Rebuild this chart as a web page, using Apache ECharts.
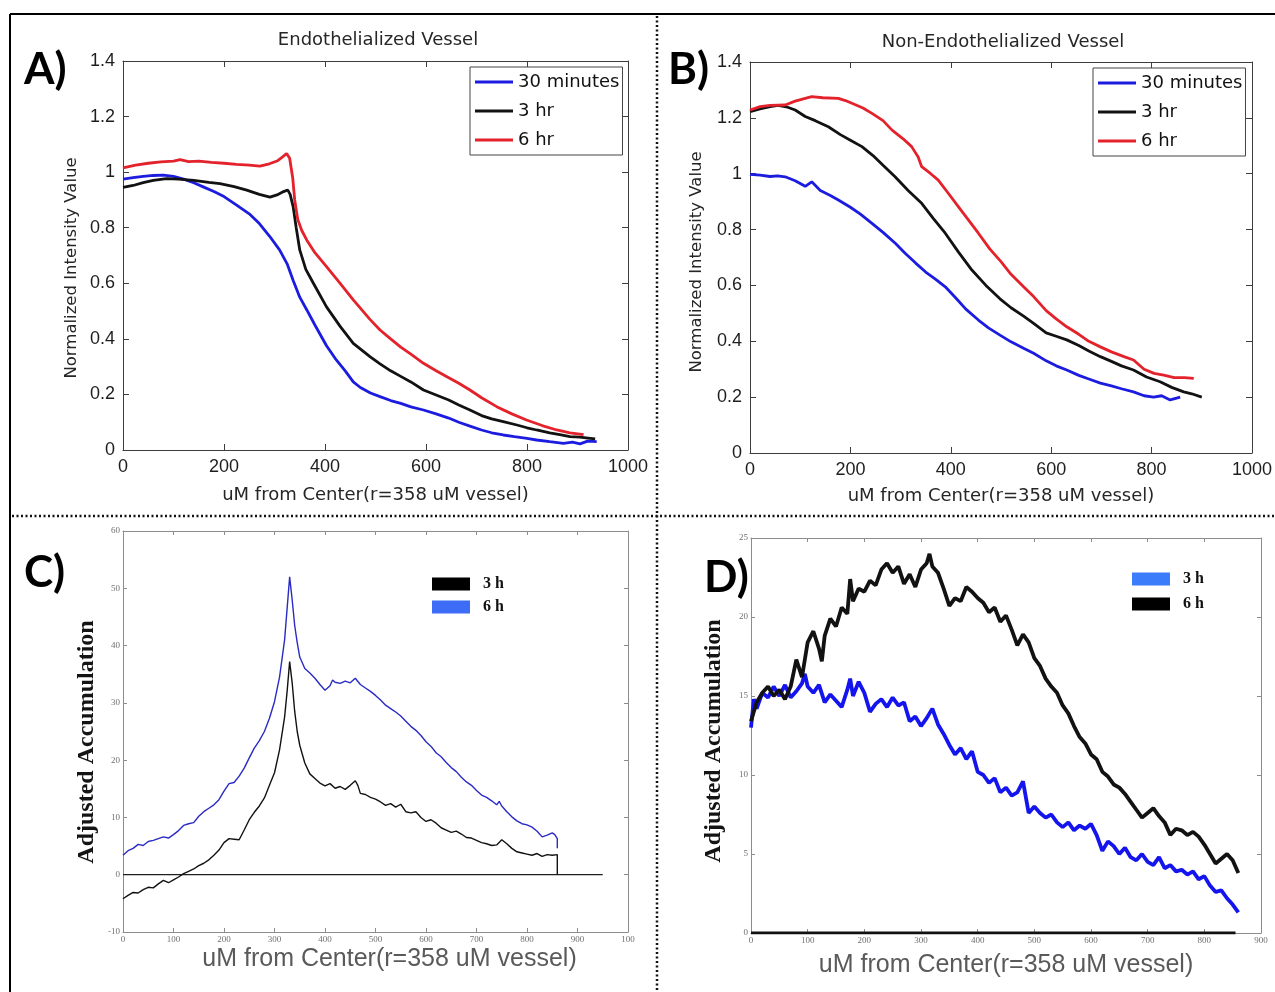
<!DOCTYPE html>
<html>
<head>
<meta charset="utf-8">
<title>Vessel intensity and accumulation profiles</title>
<script src="https://cdn.jsdelivr.net/npm/echarts@6/dist/echarts.min.js"></script>
<style>
  html, body { margin: 0; padding: 0; background: #fff; }
  #chart { width: 1275px; height: 992px; }
</style>
</head>
<body>
<div id="chart"></div>
<script>
// ---------- Panel A: endothelialized vessel, normalized intensity ----------
const endo30min = [[0,0.975],[20,0.98],[40,0.985],[60,0.988],[80,0.989],[100,0.985],[120,0.975],[140,0.962],[160,0.946],[180,0.93],[200,0.912],[225,0.881],[250,0.85],[270,0.815],[290,0.77],[310,0.72],[325,0.67],[337,0.61],[350,0.55],[364,0.504],[380,0.45],[403,0.375],[420,0.33],[440,0.285],[456,0.245],[470,0.225],[490,0.205],[509,0.192],[530,0.178],[550,0.168],[570,0.155],[595,0.144],[620,0.13],[645,0.115],[665,0.1],[687,0.086],[710,0.072],[730,0.062],[753,0.054],[775,0.048],[800,0.042],[819,0.036],[845,0.03],[872,0.024],[890,0.028],[905,0.022],[920,0.032],[938,0.03]];
const endo3hr = [[0,0.945],[20,0.952],[40,0.962],[60,0.97],[86,0.977],[110,0.975],[140,0.97],[170,0.963],[192,0.959],[220,0.948],[245,0.935],[270,0.92],[291,0.91],[305,0.918],[318,0.93],[326,0.936],[331,0.92],[337,0.875],[343,0.8],[350,0.72],[362,0.65],[377,0.6],[403,0.515],[430,0.445],[456,0.384],[489,0.336],[509,0.31],[530,0.285],[550,0.265],[570,0.245],[595,0.216],[620,0.198],[645,0.18],[665,0.162],[687,0.144],[710,0.124],[730,0.112],[753,0.102],[780,0.09],[800,0.08],[819,0.072],[845,0.062],[865,0.055],[885,0.048],[905,0.046],[925,0.042],[935,0.04]];
const endo6hr = [[0,1.015],[25,1.025],[50,1.032],[75,1.037],[100,1.04],[113,1.045],[130,1.038],[150,1.04],[175,1.035],[200,1.032],[225,1.028],[250,1.025],[271,1.022],[290,1.03],[305,1.04],[316,1.055],[324,1.067],[330,1.05],[336,0.98],[340,0.9],[346,0.83],[354,0.79],[364,0.755],[380,0.71],[403,0.66],[430,0.6],[456,0.54],[489,0.47],[509,0.432],[530,0.4],[550,0.37],[570,0.345],[595,0.312],[620,0.285],[645,0.26],[665,0.24],[687,0.216],[710,0.188],[740,0.156],[770,0.13],[799,0.108],[830,0.088],[859,0.072],[885,0.062],[912,0.055]];

// ---------- Panel B: non-endothelialized vessel, normalized intensity ----------
const nonEndo30min = [[0,0.998],[20,0.995],[40,0.99],[55,0.992],[70,0.989],[90,0.975],[110,0.955],[123,0.971],[140,0.94],[160,0.922],[176,0.906],[200,0.88],[220,0.855],[243,0.822],[265,0.79],[290,0.75],[309,0.715],[330,0.68],[350,0.648],[370,0.622],[389,0.595],[410,0.555],[430,0.515],[455,0.476],[475,0.448],[498,0.422],[520,0.398],[545,0.375],[565,0.357],[590,0.33],[610,0.312],[631,0.297],[655,0.278],[675,0.265],[698,0.25],[720,0.24],[740,0.23],[764,0.219],[785,0.205],[804,0.2],[820,0.205],[837,0.19],[857,0.2]];
const nonEndo3hr = [[0,1.222],[20,1.232],[40,1.24],[56,1.245],[75,1.238],[90,1.228],[110,1.205],[130,1.19],[156,1.168],[180,1.14],[200,1.12],[223,1.097],[245,1.065],[265,1.03],[289,0.989],[315,0.94],[342,0.894],[365,0.84],[389,0.787],[415,0.72],[442,0.655],[470,0.6],[498,0.552],[520,0.52],[545,0.49],[565,0.464],[590,0.43],[610,0.418],[631,0.405],[655,0.385],[675,0.365],[698,0.345],[720,0.328],[740,0.312],[764,0.297],[790,0.272],[817,0.255],[840,0.235],[864,0.219],[880,0.212],[900,0.2]];
const nonEndo6hr = [[0,1.228],[20,1.24],[40,1.245],[70,1.246],[90,1.26],[110,1.27],[123,1.276],[145,1.272],[176,1.27],[190,1.262],[203,1.252],[225,1.235],[243,1.216],[265,1.19],[283,1.156],[305,1.125],[322,1.097],[335,1.06],[342,1.025],[360,1.0],[375,0.977],[395,0.93],[415,0.882],[435,0.835],[455,0.787],[478,0.73],[500,0.685],[520,0.64],[545,0.595],[565,0.56],[590,0.51],[610,0.48],[631,0.452],[655,0.425],[675,0.4],[698,0.38],[720,0.362],[745,0.345],[764,0.333],[785,0.3],[805,0.285],[824,0.279],[845,0.27],[865,0.27],[884,0.267]];

// ---------- Panel C: endothelialized vessel, adjusted accumulation ----------
const accumEndo3h = [[0,-4.2],[10,-3.6],[20,-3.1],[30,-3.2],[40,-2.6],[50,-2.2],[60,-2.3],[70,-1.6],[80,-1.0],[90,-1.4],[100,-0.9],[110,-0.4],[120,0.2],[130,0.6],[140,1.0],[150,1.6],[160,2.0],[170,2.6],[180,3.4],[190,4.3],[200,5.6],[210,6.3],[220,6.2],[230,6.1],[240,7.8],[250,9.6],[260,10.9],[270,12.0],[280,13.4],[290,15.6],[300,17.8],[310,21.8],[320,27.5],[325,32.0],[330,37.2],[335,33.5],[340,28.5],[345,25.0],[350,22.6],[360,19.5],[370,17.6],[380,16.8],[390,16.0],[400,15.5],[410,15.9],[420,15.1],[430,15.4],[440,14.9],[450,15.6],[460,16.4],[465,15.6],[470,14.2],[480,14.0],[490,13.5],[500,13.2],[510,12.7],[520,12.1],[530,12.4],[540,11.8],[550,12.3],[560,11.0],[570,10.8],[580,11.0],[590,10.0],[600,9.3],[610,9.6],[620,9.0],[630,8.2],[640,7.8],[650,7.4],[660,7.6],[670,7.1],[680,6.5],[690,6.4],[700,6.0],[710,5.6],[720,5.4],[730,5.1],[740,5.2],[750,6.1],[760,5.4],[770,4.6],[780,4.0],[790,3.8],[800,3.6],[810,3.4],[820,3.7],[830,3.2],[840,3.5],[850,3.4],[860,3.5],[860,0]];
const accumEndo6h = [[0,3.4],[10,4.2],[20,4.6],[30,5.3],[40,5.1],[50,5.8],[60,6.0],[70,6.3],[80,6.6],[90,6.4],[100,7.0],[110,7.7],[120,8.6],[130,8.9],[140,9.1],[150,10.2],[160,11.0],[170,11.6],[180,12.2],[190,13.1],[200,14.6],[210,15.9],[220,16.1],[230,17.2],[240,18.6],[250,20.4],[260,22.1],[270,23.4],[280,25.0],[290,27.3],[300,30.2],[310,34.5],[320,41.0],[325,46.5],[330,52.0],[335,48.0],[340,43.5],[345,40.5],[350,38.0],[360,36.0],[370,35.2],[380,34.3],[390,33.2],[400,32.2],[410,33.0],[415,34.0],[420,33.6],[430,33.4],[440,33.8],[450,33.5],[460,34.3],[470,33.2],[480,32.6],[490,32.0],[500,31.3],[510,30.5],[520,29.6],[530,29.0],[540,28.4],[550,27.7],[560,26.8],[570,25.9],[580,25.2],[590,24.3],[600,23.2],[610,22.4],[620,21.3],[630,20.6],[640,19.6],[650,18.7],[660,18.0],[670,17.0],[680,16.2],[690,15.6],[700,14.7],[710,13.9],[720,13.5],[730,12.9],[740,12.2],[745,12.8],[750,12.0],[760,11.0],[770,10.1],[780,9.4],[790,8.9],[800,8.7],[810,8.3],[820,7.6],[830,6.6],[840,6.9],[850,7.3],[855,7.0],[860,6.3],[860,4.6]];
const accumEndoZero = [[0,0],[950,0]];

// ---------- Panel D: non-endothelialized vessel, adjusted accumulation ----------
const accumNonEndo3h = [[0,13.0],[5,14.8],[10,14.2],[20,15.2],[30,14.9],[40,15.6],[50,15.0],[60,15.7],[70,14.9],[80,15.3],[90,15.8],[95,16.4],[100,15.6],[110,15.2],[120,15.7],[130,14.6],[140,15.1],[150,14.7],[160,14.3],[170,15.4],[175,16.1],[180,15.0],[190,15.9],[200,15.2],[210,14.0],[220,14.5],[230,14.8],[240,14.3],[250,14.9],[260,14.4],[270,14.6],[280,13.4],[290,13.7],[300,13.1],[310,13.6],[320,14.2],[330,13.2],[340,12.6],[350,11.9],[360,11.3],[370,11.7],[380,11.0],[390,11.5],[400,10.2],[410,10.0],[420,9.5],[430,9.8],[440,8.9],[450,9.2],[460,8.7],[470,8.9],[480,9.6],[490,7.6],[500,8.0],[510,7.6],[520,7.3],[530,7.5],[540,7.0],[550,6.7],[560,7.0],[570,6.5],[580,6.8],[590,6.6],[600,6.9],[610,6.2],[620,5.2],[630,5.8],[640,5.5],[650,5.0],[660,5.4],[670,4.8],[680,4.6],[690,5.0],[700,4.5],[710,4.3],[720,4.8],[730,4.1],[740,4.3],[750,3.9],[760,4.0],[770,3.7],[780,3.9],[790,3.4],[800,3.6],[810,3.0],[820,2.6],[830,2.7],[840,2.2],[850,1.8],[860,1.3]];
const accumNonEndo6h = [[0,13.4],[10,14.6],[20,15.2],[30,15.6],[40,15.0],[50,15.4],[60,14.8],[70,15.6],[80,17.3],[90,16.2],[100,18.4],[110,19.1],[120,18.0],[125,17.2],[130,18.8],[140,19.9],[150,19.4],[160,20.6],[170,20.2],[175,22.4],[180,21.0],[190,21.8],[200,21.6],[210,22.3],[220,22.0],[230,23.0],[240,23.4],[250,22.8],[260,23.2],[270,22.1],[280,22.7],[290,21.9],[300,23.0],[310,23.4],[315,24.0],[320,23.2],[330,22.8],[340,21.8],[350,20.7],[360,21.2],[370,21.0],[380,21.9],[390,21.6],[400,21.2],[410,20.9],[420,20.3],[430,20.6],[440,19.7],[450,20.1],[460,19.2],[470,18.2],[480,18.9],[490,18.4],[500,17.4],[510,16.9],[520,16.1],[530,15.6],[540,15.2],[550,14.4],[560,13.9],[570,13.1],[580,12.4],[590,12.0],[600,11.3],[610,11.0],[620,10.2],[630,9.9],[640,9.4],[650,9.2],[660,8.8],[670,8.3],[680,7.8],[690,7.3],[700,7.6],[710,7.9],[720,7.4],[730,7.0],[740,6.2],[750,6.6],[760,6.5],[770,6.2],[780,6.4],[790,6.1],[800,5.6],[810,5.0],[820,4.4],[830,4.7],[840,5.0],[850,4.6],[860,3.8]];
const accumNonEndoZero = [[0,0],[855,0]];

// ---------- Tick labels ----------
const abXTicks = ['0','200','400','600','800','1000'];
const abYTicks = ['0','0.2','0.4','0.6','0.8','1','1.2','1.4'];
const cXTicks = ['0','100','200','300','400','500','600','700','800','900','100'];
const cYTicks = ['-10','0','10','20','30','40','50','60'];
const dXTicks = ['0','100','200','300','400','500','600','700','800','900'];
const dYTicks = ['0','5','10','15','20','25'];

// ---------- Text ----------
const xAxisTitle = 'uM from Center(r=358 uM vessel)';
const intensityTitle = 'Normalized Intensity Value';
const accumTitle = 'Adjusted Accumulation';

// ---------- Layout of the four panels ----------
const panels = [
  { kind: 'matlab', grid: { left: 123, top: 61, width: 505, height: 389 },
    x: [0, 1000, 200, abXTicks], y: [0, 1.4, 0.2, abYTicks], xGap: 36, xNamePad: 0 },
  { kind: 'matlab', grid: { left: 750, top: 62, width: 502, height: 391 },
    x: [0, 1000, 200, abXTicks], y: [0, 1.4, 0.2, abYTicks], xGap: 34, xNamePad: 0 },
  { kind: 'paper', grid: { left: 123, top: 531, width: 505, height: 401 },
    x: [0, 1000, 100, cXTicks], y: [-10, 60, 10, cYTicks], xGap: 15, xNamePad: 28 },
  { kind: 'paper', grid: { left: 751, top: 538, width: 510, height: 395 },
    x: [0, 900, 100, dXTicks], y: [0, 25, 5, dYTicks], xGap: 20, xNamePad: 0 }
];

const look = {
  matlab: {
    line: '#3d3d3d', tick: 6,
    label: { fontFamily: 'Liberation Sans', fontSize: 18, color: '#1e1e1e' }, labelMargin: 8,
    xNameStyle: { fontFamily: 'DejaVu Sans', fontSize: 18, color: '#262626' }
  },
  paper: {
    line: '#8c8c8c', tick: 4,
    label: { fontFamily: 'Liberation Serif', fontSize: 9, color: '#707070' }, labelMargin: 3,
    xNameStyle: { fontFamily: 'Liberation Sans', fontSize: 25, color: '#5a5a5a' }
  }
};

function fmt(labels, min, step) {
  return v => { const s = labels[Math.round((v - min) / step)]; return s === undefined ? '' : s; };
}

const grids = [], xAxes = [], yAxes = [];
panels.forEach((p, i) => {
  const L = look[p.kind];
  grids.push(Object.assign({ containLabel: false }, p.grid));
  const common = {
    gridIndex: i,
    axisLine: { show: true, onZero: false, lineStyle: { color: L.line, width: 1 } },
    axisTick: { show: true, inside: true, length: L.tick, lineStyle: { color: L.line, width: 1 } },
    splitLine: { show: false }
  };
  // bottom / top
  xAxes.push(Object.assign({}, common, {
    type: 'value', position: 'bottom', min: p.x[0], max: p.x[1], interval: p.x[2],
    axisLabel: Object.assign({ margin: L.labelMargin, showMinLabel: true, showMaxLabel: true,
      formatter: fmt(p.x[3], p.x[0], p.x[2]) }, L.label),
    name: xAxisTitle, nameLocation: 'middle', nameGap: p.xGap,
    nameTextStyle: Object.assign({ padding: [0, 0, 0, p.xNamePad] }, L.xNameStyle)
  }));
  xAxes.push(Object.assign({}, common, {
    type: 'value', position: 'top', min: p.x[0], max: p.x[1], interval: p.x[2],
    axisLabel: { show: false }
  }));
  // left / right
  yAxes.push(Object.assign({}, common, {
    type: 'value', position: 'left', min: p.y[0], max: p.y[1], interval: p.y[2],
    axisLabel: Object.assign({ margin: L.labelMargin, showMinLabel: true, showMaxLabel: true,
      formatter: fmt(p.y[3], p.y[0], p.y[2]) }, L.label)
  }));
  yAxes.push(Object.assign({}, common, {
    type: 'value', position: 'right', min: p.y[0], max: p.y[1], interval: p.y[2],
    axisLabel: { show: false }
  }));
});

const BLUE = '#1c1ce0', RED = '#e3222b', BLACK = '#121212';
function line(name, panel, data, color, width, z) {
  return {
    name, type: 'line', xAxisIndex: panel * 2, yAxisIndex: panel * 2, data,
    showSymbol: false, symbol: 'none', silent: true, z: z || 2,
    lineStyle: { color, width }, itemStyle: { color }
  };
}

const series = [
  line('30 minutes', 0, endo30min, BLUE, 2.8),
  line('3 hr', 0, endo3hr, BLACK, 2.8),
  line('6 hr', 0, endo6hr, RED, 2.8),
  line('30 minutes', 1, nonEndo30min, BLUE, 2.8),
  line('3 hr', 1, nonEndo3hr, BLACK, 2.8),
  line('6 hr', 1, nonEndo6hr, RED, 2.8),
  line('zeroC', 2, accumEndoZero, '#202020', 1.2),
  line('6 h', 2, accumEndo6h, '#2a2ac4', 1.4),
  line('3 h', 2, accumEndo3h, BLACK, 1.4),
  line('zeroD', 3, accumNonEndoZero, '#101010', 3),
  line('3 h', 3, accumNonEndo3h, '#1414ee', 3.8),
  line('6 h', 3, accumNonEndo6h, BLACK, 3.8)
];

const boxLegend = (left, top) => ({
  left, top, orient: 'vertical', selectedMode: false,
  data: ['30 minutes', '3 hr', '6 hr'],
  icon: 'rect', itemWidth: 38, itemHeight: 3, itemGap: 11,
  backgroundColor: '#fff', borderColor: '#444', borderWidth: 1, padding: [6, 3, 6, 5],
  textStyle: { fontFamily: 'DejaVu Sans', fontSize: 18, color: '#111' }
});
const swatchLegend = (left, top, items, gap) => ({
  left, top, orient: 'vertical', selectedMode: false,
  data: items.map(([name, color]) => ({ name, itemStyle: { color } })),
  icon: 'rect', itemWidth: 38, itemHeight: 13, itemGap: gap, padding: 0,
  textStyle: { fontFamily: 'Liberation Serif', fontSize: 16, fontWeight: 'bold', color: '#111', padding: [0, 0, 0, 8] }
});

const panelTag = (text, x, y) => ({
  type: 'text', left: x, top: y, silent: true,
  style: { text, fontFamily: 'Lato', fontWeight: 'bold', fontSize: 44, fill: '#000' }
});
// vertical axis titles, centred on (x, y)
const sideTitle = (text, x, y, font) => ({
  type: 'text', x, y, rotation: Math.PI / 2, silent: true,
  style: Object.assign({ text, align: 'center', verticalAlign: 'middle' }, font)
});
const dotted = (x1, y1, x2, y2) => ({
  type: 'line', silent: true, shape: { x1, y1, x2, y2 },
  style: { stroke: '#111', lineWidth: 2.5, lineDash: [2, 2.5] }
});
const solid = (x1, y1, x2, y2) => ({
  type: 'line', silent: true, shape: { x1, y1, x2, y2 },
  style: { stroke: '#000', lineWidth: 2 }
});

const intensityFont = { fontFamily: 'DejaVu Sans', fontSize: 16.5, fill: '#262626' };
const accumFont = { fontFamily: 'Liberation Serif', fontSize: 24, fontWeight: 'bold', fill: '#141414' };

const option = {
  animation: false,
  backgroundColor: '#fff',
  title: [
    { text: 'Endothelialized Vessel', left: 373, top: 26, textAlign: 'center',
      textStyle: { fontFamily: 'DejaVu Sans', fontSize: 18, fontWeight: 'normal', color: '#262626' } },
    { text: 'Non-Endothelialized Vessel', left: 998, top: 28, textAlign: 'center',
      textStyle: { fontFamily: 'DejaVu Sans', fontSize: 18, fontWeight: 'normal', color: '#262626' } }
  ],
  grid: grids,
  xAxis: xAxes,
  yAxis: yAxes,
  legend: [
    boxLegend(470, 67),
    boxLegend(1093, 68),
    swatchLegend(432, 576, [['3 h', '#000'], ['6 h', '#3d6cf6']], 7),
    swatchLegend(1132, 571, [['3 h', '#3b7cfb'], ['6 h', '#000']], 9)
  ],
  graphic: [
    solid(10, 14, 1275, 14),
    solid(10, 14, 10, 992),
    dotted(657, 16, 657, 992),
    dotted(12, 516, 1275, 516),
    panelTag('A)', 24, 48),
    panelTag('B)', 668, 48),
    panelTag('C)', 24, 551),
    panelTag('D)', 704, 556),
    sideTitle(intensityTitle, 72, 268, intensityFont),
    sideTitle(intensityTitle, 697, 262, intensityFont),
    sideTitle(accumTitle, 87, 742, accumFont),
    sideTitle(accumTitle, 714, 741, accumFont)
  ],
  series
};

const chart = echarts.init(document.getElementById('chart'), null, { renderer: 'canvas' });
chart.setOption(option);
</script>
</body>
</html>
